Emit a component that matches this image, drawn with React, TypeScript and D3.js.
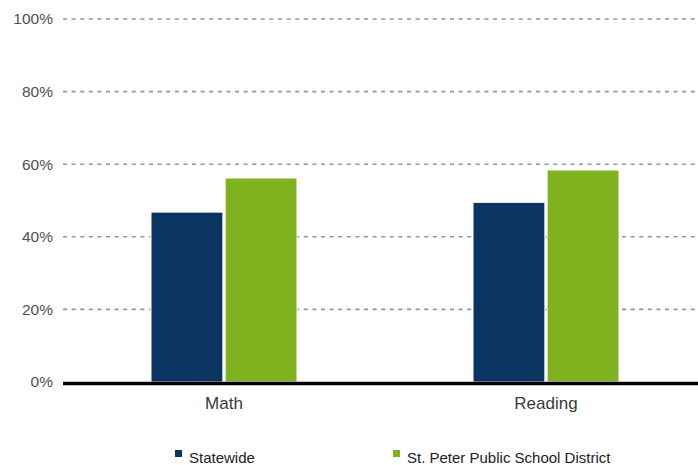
import React from "react";
import * as d3 from "d3";

const categories = ["Math", "Reading"];
const seriesNames = ["Statewide", "St. Peter Public School District"];
const statewide = [46.8, 49.5];
const district = [56.2, 58.4];
const yTicks = [0, 20, 40, 60, 80, 100];
const colors = ["#0b3463", "#80b21f"];

const W = 698;
const H = 465;
const left = 63;
const right = 707;
const top = 19;
const bottom = 382;

export default function App() {
  const x = d3.scaleBand<string>().domain(categories).range([left, right]).paddingInner(0).paddingOuter(0);
  const inner = d3.scaleBand<number>().domain([0, 1]).range([0, 146]).paddingInner(0.03);
  const y = d3.scaleLinear().domain([0, 100]).range([bottom, top]);
  const series = [statewide, district];
  const font = "'Liberation Sans', Arial, sans-serif";

  return (
    <svg width={W} height={H} style={{ position: "absolute", left: 0, top: 0, background: "#fff" }} fontFamily={font}>
      {yTicks.map((t) => (
        <g key={t}>
          {t > 0 && (
            <line x1={left} x2={W} y1={y(t)} y2={y(t)} stroke="#849c9e" strokeWidth={1.6} strokeDasharray="4 4.6" />
          )}
          <text x={53} y={y(t)} dy="0.35em" textAnchor="end" fontSize={15.5} fill="#505050">
            {t}%
          </text>
        </g>
      ))}
      {categories.map((c, i) => {
        const cx = (x(c) as number) + x.bandwidth() / 2;
        const gx = cx - 146 / 2;
        return (
          <g key={c}>
            {series.map((s, j) => (
              <rect
                key={j}
                x={gx + (inner(j) as number)}
                y={y(s[i])}
                width={inner.bandwidth()}
                height={bottom - y(s[i])}
                fill={colors[j]}
                stroke="#ffffff"
                strokeWidth={1}
              />
            ))}
            <text x={cx} y={409} textAnchor="middle" fontSize={17} fill="#3a3a3a">
              {c}
            </text>
          </g>
        );
      })}
      <line x1={left} x2={W} y1={bottom + 1.5} y2={bottom + 1.5} stroke="#000" strokeWidth={3.5} />
      {seriesNames.map((n, j) => {
        const lx = j === 0 ? 175 : 393;
        return (
          <g key={n}>
            <rect x={lx} y={450} width={7} height={7} fill={colors[j]} />
            <text x={lx + 14} y={463} fontSize={15} fill="#222">
              {n}
            </text>
          </g>
        );
      })}
    </svg>
  );
}
